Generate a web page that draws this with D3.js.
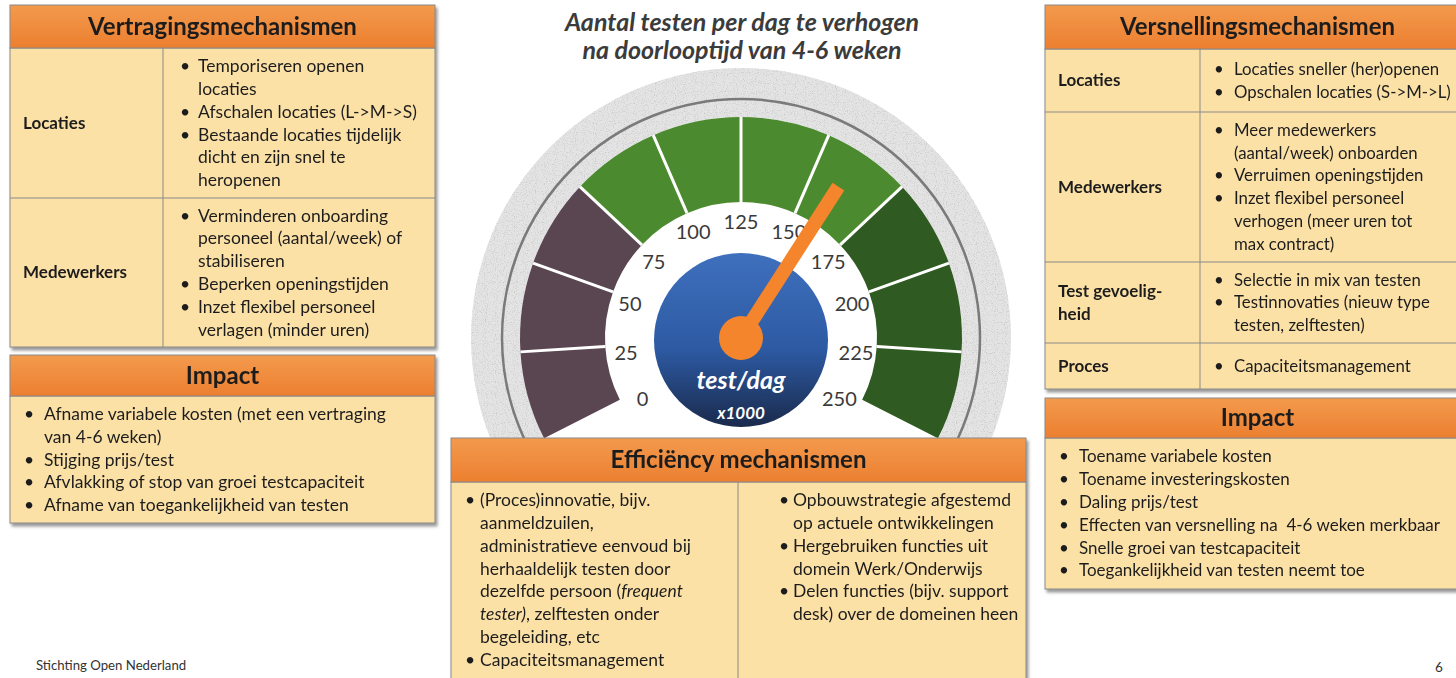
<!DOCTYPE html>
<html>
<head>
<meta charset="utf-8">
<script src="https://cdn.jsdelivr.net/npm/d3@7"></script>
<style>
  body { margin: 0; background: #fff; }
  svg { display: block; font-family: Lato, "Open Sans", sans-serif; }
  svg text { white-space: pre; }
</style>
</head>
<body>
<div id="container"></div>
<script>
/* DATA */
const ticks = [0, 25, 50, 75, 100, 125, 150, 175, 200, 225, 250]
const bandZones = ["laag", "laag", "laag", "midden", "midden", "midden", "midden", "hoog", "hoog", "hoog"]
const needleValue = 160
const gaugeTitle = ["Aantal testen per dag te verhogen", "na doorlooptijd van 4-6 weken"]
const gaugeUnit = ["test/dag", "x1000"]

const vertragingTitle = "Vertragingsmechanismen"
const vertragingRows = [["Locaties"], ["Medewerkers"]]
const vertragingItems = [
  [["Temporiseren openen", "locaties"], ["Afschalen locaties (L->M->S)"], ["Bestaande locaties tijdelijk", "dicht en zijn snel te", "heropenen"]],
  [["Verminderen onboarding", "personeel (aantal/week) of", "stabiliseren"], ["Beperken openingstijden"], ["Inzet flexibel personeel", "verlagen (minder uren)"]]
]
const vertragingImpact = [["Afname variabele kosten (met een vertraging", "van 4-6 weken)"], ["Stijging prijs/test"], ["Afvlakking of stop van groei testcapaciteit"], ["Afname van toegankelijkheid van testen"]]

const versnellingTitle = "Versnellingsmechanismen"
const versnellingRows = [["Locaties"], ["Medewerkers"], ["Test gevoelig-", "heid"], ["Proces"]]
const versnellingItems = [
  [["Locaties sneller (her)openen"], ["Opschalen locaties (S->M->L)"]],
  [["Meer medewerkers", "(aantal/week) onboarden"], ["Verruimen openingstijden"], ["Inzet flexibel personeel", "verhogen (meer uren tot", "max contract)"]],
  [["Selectie in mix van testen"], ["Testinnovaties (nieuw type", "testen, zelftesten)"]],
  [["Capaciteitsmanagement"]]
]
const versnellingImpact = [["Toename variabele kosten"], ["Toename investeringskosten"], ["Daling prijs/test"], ["Effecten van versnelling na  4-6 weken merkbaar"], ["Snelle groei van testcapaciteit"], ["Toegankelijkheid van testen neemt toe"]]

const efficiencyTitle = "Efficiëncy mechanismen"
const efficiencyItems = [
  [["(Proces)innovatie, bijv.", "aanmeldzuilen,", "administratieve eenvoud bij", "herhaaldelijk testen door", "dezelfde persoon (*frequent*", "*tester)*, zelftesten onder", "begeleiding, etc"], ["Capaciteitsmanagement"]],
  [["Opbouwstrategie afgestemd", "op actuele ontwikkelingen"], ["Hergebruiken functies uit", "domein Werk/Onderwijs"], ["Delen functies (bijv. support", "desk) over de domeinen heen"]]
]
const footer = "Stichting Open Nederland"
const pageNumber = "6"

/* CONSTANTS */
const width = 1456, height = 678
const lineH = 22.8
const textColor = "#1e1e1e"
const cellFill = "#fce1a6"
const borderColor = "#8a8a8a"
const fontSize = 17.5

const svg = d3.select("#container")
  .append("svg")
  .attr("width", width)
  .attr("height", height)

const defs = svg.append("defs")

const shadow = defs.append("filter").attr("id", "shadow")
  .attr("x", "-5%").attr("y", "-5%").attr("width", "112%").attr("height", "115%")
shadow.append("feDropShadow")
  .attr("dx", 2).attr("dy", 3).attr("stdDeviation", 1.6)
  .attr("flood-color", "#444").attr("flood-opacity", 0.55)

// speckle texture for the grey rim
const grain = defs.append("filter").attr("id", "grain")
grain.append("feTurbulence").attr("type", "fractalNoise")
  .attr("baseFrequency", 0.9).attr("numOctaves", 1).attr("seed", 4).attr("result", "noise")
grain.append("feColorMatrix").attr("in", "noise").attr("type", "matrix")
  .attr("values", "0 0 0 0 0.55  0 0 0 0 0.55  0 0 0 0 0.55  -3 0 0 0 1.5")
  .attr("result", "dots")
grain.append("feComposite").attr("in", "dots").attr("in2", "SourceGraphic").attr("operator", "in").attr("result", "clip")
const gm = grain.append("feMerge")
gm.append("feMergeNode").attr("in", "SourceGraphic")
gm.append("feMergeNode").attr("in", "clip")

const hdr = defs.append("linearGradient").attr("id", "hdr")
  .attr("x1", 0).attr("y1", 0).attr("x2", 0).attr("y2", 1)
hdr.append("stop").attr("offset", "0%").attr("stop-color", "#f39a4d")
hdr.append("stop").attr("offset", "100%").attr("stop-color", "#ec7f30")

const blue = defs.append("linearGradient").attr("id", "blue")
  .attr("x1", 0).attr("y1", 0).attr("x2", 0).attr("y2", 1)
blue.append("stop").attr("offset", "0%").attr("stop-color", "#3f70bd")
blue.append("stop").attr("offset", "55%").attr("stop-color", "#2d5aa3")
blue.append("stop").attr("offset", "100%").attr("stop-color", "#1a2a4c")

/* HELPERS */
function addLine(g, str, x, y, opts = {}) {
  const t = g.append("text")
    .attr("x", x).attr("y", y).attr("dy", "0.35em")
    .attr("font-size", opts.size || fontSize)
    .attr("font-weight", opts.weight || "normal")
    .attr("text-anchor", opts.anchor || "start")
    .attr("fill", opts.fill || textColor)
  str.split("*").forEach((s, i) => {
    if (s) t.append("tspan").attr("font-style", i % 2 ? "italic" : "normal").text(s)
  })
  return t
}

// items: array of bullets, each an array of wrapped lines
function bullets(g, items, bulletX, textX, y0, y1, align, size) {
  const lines = []
  items.forEach(b => b.forEach((l, i) => lines.push({ text: l, first: i === 0 })))
  const n = lines.length
  const start = align === "top" ? y0 + 18 : (y0 + y1) / 2 - (n - 1) / 2 * lineH
  lines.forEach((l, i) => {
    const y = start + i * lineH
    if (l.first) addLine(g, "•", bulletX, y, { size: size })
    addLine(g, l.text, textX, y, { size: size })
  })
}

function header(g, title, x0, x1, y0, y1) {
  g.append("rect")
    .attr("x", x0).attr("y", y0).attr("width", x1 - x0).attr("height", y1 - y0)
    .attr("fill", "url(#hdr)").attr("stroke", borderColor)
  addLine(g, title, (x0 + x1) / 2, (y0 + y1) / 2, { size: 24, weight: "bold", anchor: "middle" })
}

function body(g, x0, x1, y0, y1) {
  g.append("rect")
    .attr("x", x0).attr("y", y0).attr("width", x1 - x0).attr("height", y1 - y0)
    .attr("fill", cellFill).attr("stroke", borderColor)
}

function table(cfg) {
  const g = svg.append("g").attr("filter", "url(#shadow)")
  const b = cfg.rowBounds
  body(g, cfg.x0, cfg.x1, b[0], b[b.length - 1])
  header(g, cfg.title, cfg.x0, cfg.x1, cfg.top, b[0])
  g.append("line")
    .attr("x1", cfg.colX).attr("x2", cfg.colX)
    .attr("y1", b[0]).attr("y2", b[b.length - 1])
    .attr("stroke", borderColor)
  g.selectAll("line.row")
    .data(b.slice(1, -1))
    .join("line")
    .attr("class", "row")
    .attr("x1", cfg.x0).attr("x2", cfg.x1)
    .attr("y1", d => d).attr("y2", d => d)
    .attr("stroke", borderColor)
  cfg.rows.forEach((label, i) => {
    const mid = (b[i] + b[i + 1]) / 2
    label.forEach((l, j) => {
      addLine(g, l, cfg.x0 + 13, mid + (j - (label.length - 1) / 2) * lineH, { weight: "bold", size: 17 })
    })
    bullets(g, cfg.items[i], cfg.colX + cfg.bulletDx, cfg.colX + cfg.textDx, b[i], b[i + 1], "center", cfg.size)
  })
}

function impact(cfg) {
  const g = svg.append("g").attr("filter", "url(#shadow)")
  body(g, cfg.x0, cfg.x1, cfg.headBottom, cfg.bottom)
  header(g, "Impact", cfg.x0, cfg.x1, cfg.top, cfg.headBottom)
  bullets(g, cfg.items, cfg.x0 + 14, cfg.x0 + 34, cfg.headBottom, cfg.bottom, "center", cfg.size)
}

/* LEFT: VERTRAGING */
table({ title: vertragingTitle, rows: vertragingRows, items: vertragingItems,
  x0: 10, x1: 435, colX: 163, top: 5, rowBounds: [48, 198, 347], bulletDx: 17, textDx: 35 })
impact({ items: vertragingImpact, x0: 10, x1: 435, top: 355, headBottom: 396, bottom: 523 })

/* RIGHT: VERSNELLING */
table({ title: versnellingTitle, rows: versnellingRows, items: versnellingItems,
  x0: 1045, x1: 1470, colX: 1200, top: 5, rowBounds: [49, 112, 262, 343, 389], bulletDx: 14, textDx: 34, size: 16.8 })
impact({ items: versnellingImpact, x0: 1045, x1: 1470, top: 398, headBottom: 438, bottom: 589, size: 17 })

/* GAUGE */
const cx = 741, cy = 338
const rad = d => d * Math.PI / 180
const angle = d3.scaleLinear().domain([0, 250]).range([-117, 117])
const labelAngle = d3.scaleLinear().domain([0, 250]).range([-122, 122])
const zoneColor = d3.scaleOrdinal()
  .domain(["laag", "midden", "hoog"])
  .range(["#5a4650", "#4b8a2e", "#2f5a21"])

const gauge = svg.append("g").attr("transform", `translate(${cx},${cy})`)

gauge.append("path")
  .attr("d", d3.arc().innerRadius(221).outerRadius(270).startAngle(0).endAngle(2 * Math.PI)())
  .attr("fill", "#e4e4e4")
  .attr("filter", "url(#grain)")
gauge.append("circle").attr("r", 239).attr("fill", "none").attr("stroke", "#7a7a7a").attr("stroke-width", 2.5)

const segArc = d3.arc().innerRadius(136).outerRadius(221)
gauge.selectAll("path.seg")
  .data(bandZones)
  .join("path")
  .attr("class", "seg")
  .attr("d", (d, i) => segArc({ startAngle: rad(angle(ticks[i])), endAngle: rad(angle(ticks[i + 1])) }))
  .attr("fill", d => zoneColor(d))

gauge.selectAll("line.div")
  .data(ticks.slice(1, -1))
  .join("line")
  .attr("class", "div")
  .attr("x1", d => 136 * Math.sin(rad(angle(d))))
  .attr("y1", d => -136 * Math.cos(rad(angle(d))))
  .attr("x2", d => 221 * Math.sin(rad(angle(d))))
  .attr("y2", d => -221 * Math.cos(rad(angle(d))))
  .attr("stroke", "#fff").attr("stroke-width", 3)

gauge.append("circle").attr("cy", 2).attr("r", 87).attr("fill", "url(#blue)")

gauge.selectAll("text.tick")
  .data(ticks)
  .join("text")
  .attr("class", "tick")
  .attr("x", d => 116 * Math.sin(rad(labelAngle(d))))
  .attr("y", d => -116 * Math.cos(rad(labelAngle(d))))
  .attr("dy", "0.35em")
  .attr("text-anchor", "middle")
  .attr("font-size", 20)
  .attr("fill", "#3a3a3a")
  .text(d => d)

const na = rad(angle(needleValue))
gauge.append("line")
  .attr("x1", 0).attr("y1", 0)
  .attr("x2", 180 * Math.sin(na)).attr("y2", -180 * Math.cos(na))
  .attr("stroke", "#f5852c").attr("stroke-width", 14)
gauge.append("circle").attr("r", 22).attr("fill", "#f5852c")

gauge.append("text").attr("y", 42).attr("dy", "0.35em").attr("text-anchor", "middle")
  .attr("font-size", 25).attr("font-weight", "bold").attr("font-style", "italic")
  .attr("fill", "#fff").text(gaugeUnit[0])
gauge.append("text").attr("y", 75).attr("dy", "0.35em").attr("text-anchor", "middle")
  .attr("font-size", 17).attr("font-weight", "bold").attr("font-style", "italic")
  .attr("fill", "#fff").text(gaugeUnit[1])

gaugeTitle.forEach((t, i) => {
  svg.append("text")
    .attr("x", 742).attr("y", 22 + i * 28).attr("dy", "0.35em")
    .attr("text-anchor", "middle")
    .attr("font-size", 25).attr("font-weight", "bold").attr("font-style", "italic")
    .attr("fill", "#3b3b3b")
    .text(t)
})

/* CENTER: EFFICIENCY */
const eff = svg.append("g").attr("filter", "url(#shadow)")
body(eff, 451, 1026, 482, 700)
header(eff, efficiencyTitle, 451, 1026, 438, 482)
eff.append("line").attr("x1", 738).attr("x2", 738).attr("y1", 482).attr("y2", 700).attr("stroke", borderColor)
bullets(eff, efficiencyItems[0], 465, 480, 482, 700, "top")
bullets(eff, efficiencyItems[1], 779, 793, 482, 700, "top")

/* FOOTER */
addLine(svg, footer, 36, 665, { size: 13.2, fill: "#333" })
addLine(svg, pageNumber, 1435, 667, { size: 13.5, fill: "#333" })
</script>
</body>
</html>
